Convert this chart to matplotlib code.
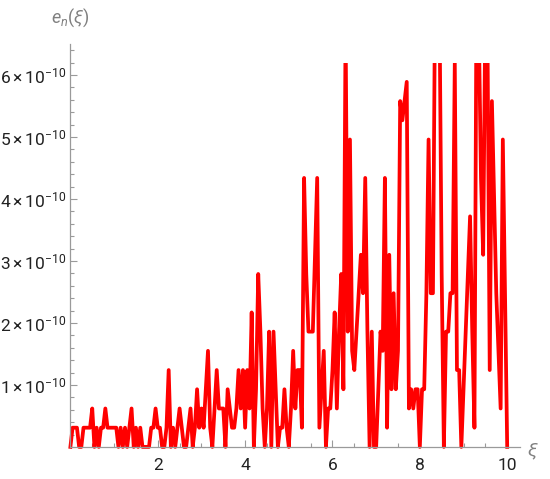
import numpy as np
import matplotlib.pyplot as plt
from matplotlib.patches import Rectangle
from matplotlib.ticker import MultipleLocator

plt.rcParams['font.family'] = ['Roboto', 'DejaVu Sans']
plt.rcParams['mathtext.fontset'] = 'custom'
plt.rcParams['mathtext.rm'] = 'Roboto'
plt.rcParams['mathtext.it'] = 'Roboto:italic'

# error levels, in units of one quantum (~3.1e-11)
quantum = 3.1e-11
levels = [
    0, 1, 1, 1, 0, 0, 1, 1, 1, 1,
    2, 0, 1, 0, 1, 1, 2, 1, 1, 1,
    1, 1, 0, 1, 0, 1, 0, 1, 2, 0,
    1, 0, 1, 0, 0, 0, 0, 1, 1, 2,
    1, 1, 0, 0, 1, 4, 0, 1, 0, 1,
    2, 1, 0, 0, 1, 2, 0, 1, 3, 1,
    2, 1, 3, 5, 1, 0, 2, 4, 2, 2,
    2, 0, 3, 2, 1, 1, 2, 4, 2, 4,
    1, 4, 2, 7, 0, 3, 9, 6, 2, 0,
    2, 6, 0, 6, 3, 0, 1, 1, 3, 1,
    0, 2, 5, 2, 4, 4, 1, 14, 9, 6,
    6, 6, 10, 14, 1, 3, 5, 0, 2, 2,
    4, 7, 2, 6, 9, 3, 22, 6, 16, 5,
    4, 6, 8, 10, 8, 14, 6, 0, 6, 0,
    0, 3, 6, 5, 14, 1, 10, 3, 8, 3,
    5, 18, 17, 18, 19, 2, 3, 2, 3, 3,
    0, 3, 3, 8, 16, 8, 8, 24, 21, 23,
    9, 0, 6, 6, 8, 8, 20, 4, 4, 0,
    3, 6, 9, 12, 6, 1, 25, 22, 14, 10,
    23, 21, 4, 18, 13, 8, 5, 2, 16, 8,
    0,
]
xi = np.linspace(0, 10, len(levels))
err = np.array(levels) * quantum

y_clip = 6.2e-10
y_ticks = [1e-10, 2e-10, 3e-10, 4e-10, 5e-10, 6e-10]
y_labels = [r'$1\times10^{-10}$', r'$2\times10^{-10}$', r'$3\times10^{-10}$',
            r'$4\times10^{-10}$', r'$5\times10^{-10}$', r'$6\times10^{-10}$']
x_ticks = [2, 4, 6, 8, 10]

fig = plt.figure(figsize=(5.5, 4.79), dpi=100)
ax = fig.add_axes([0.128, 0.067, 0.818, 0.841])

line, = ax.plot(xi, err, color='red', lw=2.7)
clip = Rectangle((-1, -1e-10), 12, y_clip + 1e-10, transform=ax.transData)
line.set_clip_path(clip)

ax.set_xlim(0, 10.3)
ax.set_ylim(0, 6.5e-10)

gray = '#9a9a9a'
for s in ['top', 'right']:
    ax.spines[s].set_visible(False)
for s in ['left', 'bottom']:
    ax.spines[s].set_color(gray)
    ax.spines[s].set_linewidth(0.9)

ax.set_xticks(x_ticks)
ax.xaxis.set_minor_locator(MultipleLocator(0.5))
ax.set_yticks(y_ticks)
ax.set_yticklabels(y_labels)
ax.yaxis.set_minor_locator(MultipleLocator(0.2e-10))

ax.tick_params(which='both', direction='in', color=gray, width=0.8,
               labelsize=12.5, labelcolor='#222222')
ax.tick_params(which='major', length=5)
ax.tick_params(which='minor', length=3)
ax.tick_params(axis='x', pad=8)
ax.tick_params(axis='y', pad=3)

fig.text(70 / 550, 1 - 18 / 479, r'$e_n(\xi)$', ha='center', va='center',
         color='#808080', fontsize=13)
fig.text(533 / 550, 1 - 452 / 479, r'$\xi$', ha='center', va='center',
         color='#808080', fontsize=14)

fig.savefig('out.png', dpi=100)
